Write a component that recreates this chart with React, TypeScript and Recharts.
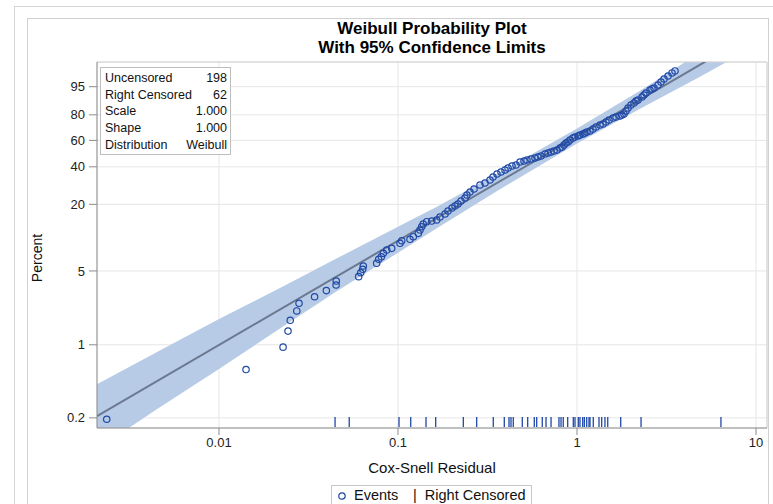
import { ComposedChart, Area, Line, Scatter, XAxis, YAxis, CartesianGrid, ReferenceLine } from "recharts";

// Cox-Snell residuals of the uncensored observations with their plotting positions (%)
const eventResidual = [
  0.00236, 0.01416, 0.0228, 0.0243, 0.025, 0.0272, 0.028, 0.0342, 0.0398, 0.0451, 0.0452,
  0.0603, 0.0619, 0.0635, 0.064, 0.076, 0.078, 0.0807, 0.0828, 0.0865, 0.0922, 0.1026,
  0.1049, 0.1167, 0.1218, 0.1299, 0.1327, 0.1356, 0.1384, 0.1446, 0.1543, 0.1645, 0.1716,
  0.1831, 0.1902, 0.2003, 0.2082, 0.2163, 0.2249, 0.2367, 0.2428, 0.2525, 0.2658, 0.2871,
  0.3062, 0.3266, 0.3394, 0.3573, 0.3762, 0.3961, 0.4117, 0.4334, 0.4562, 0.4803, 0.5057,
  0.5256, 0.5534, 0.5824, 0.6054, 0.6294, 0.6626, 0.6887, 0.7155, 0.7436, 0.7731, 0.8035,
  0.8245, 0.846, 0.868, 0.8907, 0.914, 0.9499, 0.9746, 1.013, 1.039, 1.08, 1.108, 1.137,
  1.182, 1.228, 1.277, 1.344, 1.397, 1.452, 1.509, 1.589, 1.652, 1.739, 1.784, 1.83, 1.878,
  1.927, 2.003, 2.082, 2.136, 2.192, 2.308, 2.367, 2.429, 2.557, 2.624, 2.693, 2.835, 2.947,
  3.062, 3.224, 3.394, 3.527,
];
const eventPercent = [
  0.194, 0.58, 0.95, 1.35, 1.71, 2.1, 2.48, 2.86, 3.27, 3.69, 4.02,
  4.42, 4.81, 5.18, 5.56, 5.89, 6.42, 6.78, 7.29, 7.82, 8.1, 9.01,
  9.52, 9.8, 10.35, 11.1, 11.89, 12.73, 13.46, 14.11, 14.3, 14.61, 15.52,
  16.5, 17.52, 18.6, 19.35, 20.13, 21.35, 22.64, 23.99, 25.4, 26.88, 28.97,
  30.05, 31.74, 33.5, 35.33, 36.6, 37.89, 39.21, 40.55, 41.24, 43.35, 44.07,
  44.78, 45.51, 46.25, 46.99, 47.74, 49.24, 50.0, 50.77, 51.54, 52.32, 53.87,
  54.68, 56.27, 57.87, 58.68, 60.29, 61.92, 62.73, 63.54, 64.35, 65.16, 65.97, 66.78,
  67.59, 69.19, 70.79, 72.37, 73.15, 74.71, 76.22, 77.72, 78.45, 79.17, 79.89, 80.6, 82.66,
  84.62, 86.47, 87.64, 88.75, 89.28, 90.81, 91.75, 92.63, 93.83, 94.21, 94.56, 95.54, 96.4,
  97.13, 97.75, 98.27, 98.56,
];

// residuals of the right-censored observations (rug along the bottom)
const censoredResidual = [
  0.0445, 0.0534, 0.1013, 0.1178, 0.1434, 0.1624, 0.2317, 0.2752, 0.3406, 0.3925, 0.417,
  0.4278, 0.4406, 0.4947, 0.5303, 0.5773, 0.5955, 0.6398, 0.6712, 0.7161, 0.793, 0.8143,
  0.838, 0.8872, 0.9535, 0.9746, 1.017, 1.039, 1.076, 1.099, 1.133, 1.167, 1.182, 1.233,
  1.327, 1.374, 1.433, 1.485, 1.755, 2.279, 6.37,
];

// 95% pointwise confidence limits around the fitted distribution
const bandResidual = [0.002082, 0.004561, 0.01, 0.02192, 0.04502, 0.1, 0.1648, 0.3713, 1, 2.249, 4.866, 11.52];
const bandLower = [0.1004, 0.2458, 0.587, 1.429, 3.184, 7.387, 12.34, 26.74, 57.55, 84.18, 97.62, 99.979];
const bandUpper = [0.4209, 0.8627, 1.759, 3.458, 6.486, 12.73, 19.09, 36.41, 69.67, 93.57, 99.825, 99.99999];

// fitted Weibull (scale 1, shape 1) is straight on these axes
const fitResidual = [0.002082, 11.52];
const fitPercent = [0.208, 99.999];

const percentTicks = [0.2, 1, 5, 20, 40, 60, 80, 95];
const residualTicks = [0.01, 0.1, 1, 10];
const residualRange = [0.002082, 11.52];
const percentRange = [0.16, 99.43];

const summaryRows = [
  ["Uncensored", "198"],
  ["Right Censored", "62"],
  ["Scale", "1.000"],
  ["Shape", "1.000"],
  ["Distribution", "Weibull"],
];

// probability paper transforms
const lg = (r: number) => Math.log10(r);
const weib = (p: number) => Math.log10(-Math.log(1 - p / 100));

const events = eventResidual.map((r, i) => ({ lx: lg(r), wy: weib(eventPercent[i]) }));
const censored = censoredResidual.map((r) => ({ lx: lg(r), wy: weib(percentRange[0]) }));
const band = bandResidual.map((r, i) => ({ lx: lg(r), band: [weib(bandLower[i]), weib(bandUpper[i])] }));
const fit = fitResidual.map((r, i) => ({ lx: lg(r), wy: weib(fitPercent[i]) }));

const X_DOMAIN = [lg(residualRange[0]), lg(residualRange[1])];
const Y_DOMAIN = [weib(percentRange[0]), weib(percentRange[1])];

const FONT = "'Liberation Sans', Arial, sans-serif";
const BLUE = "#1f48a6";

const tickLabel = (v: number) => {
  const r = Math.pow(10, v);
  return r >= 1 ? String(Math.round(r)) : String(Number(r.toPrecision(2)));
};
const pctLabel = (v: number) => {
  const p = percentTicks.find((t) => Math.abs(weib(t) - v) < 1e-6);
  return p === undefined ? "" : String(p);
};

const EventMarker = (props: any) => (
  <circle cx={props.cx} cy={props.cy} r={3.2} fill="none" stroke={BLUE} strokeWidth={1.2} />
);
const CensorMark = (props: any) => (
  <line x1={props.cx} x2={props.cx} y1={props.cy - 11} y2={props.cy - 1} stroke={BLUE} strokeWidth={1.3} />
);

export default function App() {
  return (
    <div style={{ position: "absolute", left: 0, top: 0, width: 773, height: 504, overflow: "hidden", background: "#fff", fontFamily: FONT }}>
      <div style={{ position: "absolute", left: 14, top: 6, width: 800, height: 520, border: "1px solid #d6d6d6" }} />
      <div style={{ position: "absolute", left: 27, top: 18, width: 740, height: 520, border: "1px solid #d0d0d0" }} />

      <div style={{ position: "absolute", left: 0, width: 864, top: 19, textAlign: "center", fontWeight: "bold", fontSize: 17, lineHeight: "19px", color: "#000" }}>
        <div>Weibull Probability Plot</div>
        <div>With 95% Confidence Limits</div>
      </div>

      <div style={{ position: "absolute", left: 0, top: 0 }}>
        <ComposedChart width={773} height={504} data={band} margin={{ top: 62, right: 6, bottom: 46, left: 47 }}>
          <CartesianGrid stroke="#e6e6e6" />
          <XAxis
            type="number"
            dataKey="lx"
            domain={X_DOMAIN}
            ticks={residualTicks.map(lg)}
            tickFormatter={tickLabel}
            allowDataOverflow
            height={30}
            tickSize={7}
            tickMargin={3}
            stroke="#8c8c8c"
            tick={{ fill: "#222", fontSize: 13, fontFamily: FONT }}
          />
          <YAxis
            type="number"
            dataKey="wy"
            domain={Y_DOMAIN}
            ticks={percentTicks.map(weib)}
            tickFormatter={pctLabel}
            allowDataOverflow
            width={50}
            tickSize={8}
            tickMargin={4}
            stroke="#8c8c8c"
            tick={{ fill: "#222", fontSize: 13, fontFamily: FONT }}
          />
          <ReferenceLine y={Y_DOMAIN[1]} stroke="#d0d0d0" />
          <ReferenceLine x={X_DOMAIN[1]} stroke="#d0d0d0" />
          <Area dataKey="band" type="linear" fill="#b7cbe6" fillOpacity={1} stroke="none" isAnimationActive={false} />
          <Line data={fit} dataKey="wy" type="linear" stroke="#6a7890" strokeWidth={2} dot={false} isAnimationActive={false} />
          <Scatter data={censored} shape={CensorMark} isAnimationActive={false} />
          <Scatter data={events} shape={EventMarker} isAnimationActive={false} />
        </ComposedChart>
      </div>

      <div style={{ position: "absolute", left: 100, top: 67, width: 129, height: 86, border: "1px solid #bdbdbd", background: "#fff", fontSize: 12.5, color: "#111" }}>
        {summaryRows.map(([k, v], i) => (
          <div key={k} style={{ position: "absolute", left: 4, right: 3, top: 2 + i * 16.7, display: "flex", justifyContent: "space-between", lineHeight: "16px" }}>
            <span>{k}</span>
            <span>{v}</span>
          </div>
        ))}
      </div>

      <div style={{ position: "absolute", left: 37, top: 258, transform: "translate(-50%, -50%) rotate(-90deg)", fontSize: 14, color: "#111", whiteSpace: "nowrap" }}>
        Percent
      </div>
      <div style={{ position: "absolute", left: 0, width: 864, top: 459, textAlign: "center", fontSize: 15, color: "#111" }}>
        Cox-Snell Residual
      </div>

      <div style={{ position: "absolute", left: 331, top: 485, width: 199, height: 22, border: "1px solid #c8c8c8", fontSize: 14.5, color: "#111", lineHeight: "18px" }}>
        <svg width={10} height={10} style={{ position: "absolute", left: 5, top: 5 }}>
          <circle cx={5} cy={5} r={3.2} fill="none" stroke={BLUE} strokeWidth={1.2} />
        </svg>
        <span style={{ position: "absolute", left: 22, top: 0 }}>Events</span>
        <span style={{ position: "absolute", left: 81, top: 0 }}>|&nbsp;&nbsp;Right Censored</span>
      </div>
    </div>
  );
}
